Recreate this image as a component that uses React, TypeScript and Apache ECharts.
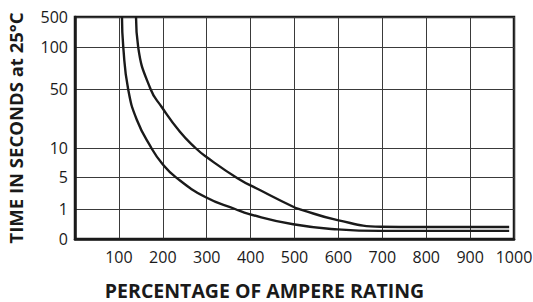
import React, { useEffect, useRef } from "react";
import * as echarts from "echarts";

// Y-axis tick labels (time in seconds) and where each sits on the non-uniform scale
const yTickLabels = ["0", "1", "5", "10", "50", "100", "500"];
const yTickTimes = [0, 1, 5, 10, 50, 100, 500];
// relative height of each tick on the chart's non-uniform vertical scale (0..222)
const yTickPos = [0, 30, 61.6, 91, 150, 191.6, 222];

const xTickLabels = ["100", "200", "300", "400", "500", "600", "700", "800", "900", "1000"];

// Lower curve (percentage of rating, seconds)
const curveAx = [107, 110, 121, 141, 174, 197.5, 230, 298, 364.5, 397, 497, 598, 696, 800, 900, 989];
const curveAt = [500, 100, 50, 29, 10, 7.45, 5, 2.48, 1, 0.83, 0.49, 0.32, 0.27, 0.27, 0.27, 0.27];

// Upper curve
const curveBx = [139, 144, 172, 197.5, 239, 274.5, 298, 371, 421, 497, 512.5, 598, 696, 786, 900, 989];
const curveBt = [500, 100, 50, 37.8, 21, 10, 8.55, 4.87, 3.4, 1.28, 0.99, 0.63, 0.41, 0.4, 0.4, 0.4];

function toPos(t: number): number {
  for (let i = 1; i < yTickTimes.length; i++) {
    if (t <= yTickTimes[i]) {
      const t0 = yTickTimes[i - 1], t1 = yTickTimes[i];
      const p0 = yTickPos[i - 1], p1 = yTickPos[i];
      return p0 + ((t - t0) / (t1 - t0)) * (p1 - p0);
    }
  }
  return yTickPos[yTickPos.length - 1];
}

export default function App() {
  const ref = useRef<HTMLDivElement>(null);
  useEffect(() => {
    if (!ref.current) return;
    const chart = echarts.init(ref.current, null, { renderer: "svg" });
    const font = "'Open Sans', 'Noto Sans', sans-serif";
    chart.setOption({
      animation: false,
      backgroundColor: "#ffffff",
      grid: {
        left: 75,
        right: 19,
        top: 17,
        bottom: 63,
        outerBoundsMode: "none",
        containLabel: false,
        show: true,
        borderColor: "#1a1a1a",
        borderWidth: 2.5,
        backgroundColor: "transparent",
      },
      xAxis: {
        type: "value",
        min: 0,
        max: 1000,
        interval: 100,
        name: "PERCENTAGE OF AMPERE RATING",
        nameLocation: "middle",
        nameGap: 41,
        nameTextStyle: {
          fontFamily: font,
          fontWeight: "bold",
          fontSize: 19.5,
          color: "#1a1a1a",
          padding: [0, 60, 0, 0],
        },
        axisLine: { show: true, lineStyle: { color: "#1a1a1a", width: 2.5 } },
        axisTick: { show: false },
        axisLabel: {
          fontFamily: font,
          fontSize: 16,
          color: "#1a1a1a",
          margin: 10,
          formatter: (v: number) => {
            const s = String(Math.round(v));
            return xTickLabels.includes(s) ? s : "";
          },
        },
        splitLine: { show: true, lineStyle: { color: "#3a3a3a", width: 1 } },
      },
      yAxis: {
        type: "value",
        min: 0,
        max: yTickPos[yTickPos.length - 1],
        name: "TIME IN SECONDS at 25°C",
        nameLocation: "middle",
        nameGap: 50,
        nameTextStyle: {
          fontFamily: font,
          fontWeight: "bold",
          fontSize: 18.5,
          color: "#1a1a1a",
        },
        axisLine: { show: true, lineStyle: { color: "#1a1a1a", width: 2.5 } },
        axisTick: { show: false, customValues: yTickPos },
        axisLabel: {
          customValues: yTickPos,
          fontFamily: font,
          fontSize: 16,
          color: "#1a1a1a",
          margin: 7,
          formatter: (v: number) => {
            let best = 0;
            for (let i = 0; i < yTickPos.length; i++) {
              if (Math.abs(yTickPos[i] - v) < Math.abs(yTickPos[best] - v)) best = i;
            }
            return yTickLabels[best];
          },
        },
        splitLine: { show: true, lineStyle: { color: "#3a3a3a", width: 1 } },
      },
      series: [
        {
          type: "line",
          data: curveAx.map((x, i) => [x, toPos(curveAt[i])]),
          smooth: 0.5,
          showSymbol: false,
          lineStyle: { color: "#1a1a1a", width: 2.4 },
        },
        {
          type: "line",
          data: curveBx.map((x, i) => [x, toPos(curveBt[i])]),
          smooth: 0.5,
          showSymbol: false,
          lineStyle: { color: "#1a1a1a", width: 2.4 },
        },
      ],
    });
    return () => chart.dispose();
  }, []);
  return (
    <div
      ref={ref}
      style={{ width: 533, height: 302, position: "absolute", left: 0, top: 0 }}
    />
  );
}
